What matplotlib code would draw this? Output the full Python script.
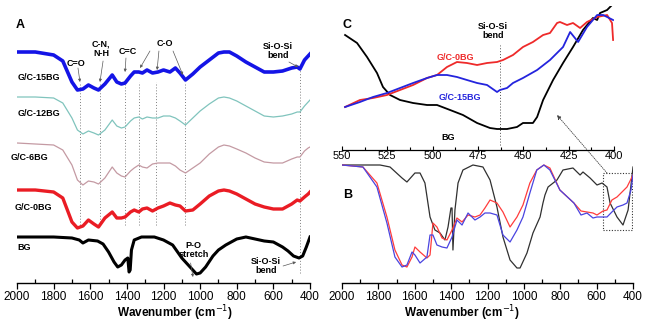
import matplotlib
matplotlib.use('Agg')
import matplotlib.pyplot as plt
from matplotlib.patches import Rectangle
from matplotlib.ticker import MultipleLocator

plt.rcParams['font.family'] = ['Liberation Sans', 'DejaVu Sans']

## Panel A: stacked FTIR spectra (transmittance, arbitrary offset units)
wn_a = [2000, 1900, 1800, 1750, 1700, 1670, 1640, 1610, 1580, 1555, 1520, 1480, 1455, 1430,
        1410, 1380, 1360, 1335, 1315, 1290, 1260, 1230, 1200, 1165, 1135, 1110, 1080, 1040,
        1000, 950, 900, 870, 840, 800, 750, 700, 650, 600, 550, 500, 470, 455, 430, 410, 400]
gc15_a = [231, 231, 228, 222, 201, 193, 194, 198, 195, 193, 199, 208, 201, 199,
          200, 207, 211, 211, 210, 213, 210, 211, 213, 211, 215, 210, 203, 209,
          216, 223, 230, 231, 231, 227, 221, 216, 211, 211, 212, 215, 216, 214, 223, 227, 229]
gc12_a = [186, 186, 185, 180, 165, 153, 149, 152, 150, 148, 153, 163, 157, 155,
          156, 162, 165, 166, 164, 166, 165, 165, 167, 167, 165, 162, 158, 165,
          172, 179, 185, 186, 185, 182, 177, 172, 167, 166, 167, 169, 171, 171, 177, 181, 183]
gc6_a = [140, 139, 138, 133, 118, 103, 98, 102, 101, 99, 105, 116, 110, 107,
         106, 112, 115, 118, 116, 115, 119, 120, 120, 120, 117, 113, 110, 115,
         120, 129, 136, 138, 137, 134, 130, 125, 121, 120, 120, 124, 126, 126, 132, 135, 136]
gc0_a = [93, 93, 91, 85, 61, 55, 57, 63, 59, 56, 65, 71, 65, 65,
         66, 71, 73, 71, 74, 75, 72, 75, 77, 80, 78, 77, 72, 73,
         79, 87, 92, 93, 92, 89, 84, 79, 76, 74, 74, 79, 83, 82, 86, 89, 91]
wn_bg_a = [2000, 1800, 1700, 1660, 1640, 1610, 1560, 1530, 1500, 1470, 1450, 1430, 1410, 1395,
           1388, 1382, 1375, 1360, 1320, 1250, 1200, 1150, 1100, 1050, 1020, 1000, 970, 930,
           900, 860, 800, 750, 700, 650, 600, 550, 520, 490, 460, 440, 420, 400]
bg_a = [46, 46, 45, 43, 40, 43, 42, 39, 31, 21, 16, 18, 23, 25,
        11, 13, 33, 43, 46, 46, 43, 38, 25, 15, 9, 10, 16, 27,
        33, 38, 44, 46, 44, 42, 41, 36, 32, 27, 25, 27, 36, 46]
band_lines = [1656, 1547, 1410, 1334, 1241, 1083]

## Panel B: overlaid spectra
wn_b_bg = [2000, 1791, 1736, 1670, 1643, 1599, 1571, 1544, 1516, 1489, 1461, 1434, 1417, 1401,
           1395, 1390, 1379, 1362, 1335, 1280, 1225, 1186, 1148, 1115, 1076, 1038, 1021, 983,
           950, 911, 895, 884, 867, 818, 785, 730, 691, 675, 636, 598, 570, 543, 526, 488,
           455, 427, 406, 400]
bg_b = [118, 118, 116, 105, 101, 110, 110, 100, 66, 53, 50, 43, 56, 75,
        75, 33, 73, 100, 113, 118, 116, 103, 76, 46, 23, 15, 15, 30,
        50, 66, 80, 88, 96, 103, 113, 115, 108, 111, 105, 98, 100, 96, 80, 66,
        58, 73, 106, 116]
wn_b_gc = [2000, 1885, 1808, 1753, 1709, 1670, 1643, 1615, 1599, 1571, 1533, 1516, 1500, 1478,
           1450, 1423, 1395, 1368, 1340, 1307, 1269, 1241, 1214, 1186, 1148, 1115, 1076, 1038,
           1005, 967, 929, 890, 857, 802, 725, 686, 653, 620, 598, 565, 543, 516, 488, 455,
           433, 411, 400]
gc0_b = [118, 116, 100, 66, 33, 18, 16, 26, 36, 31, 25, 28, 60, 56,
         45, 43, 53, 65, 61, 68, 66, 68, 75, 83, 80, 71, 56, 66,
         78, 100, 113, 118, 115, 93, 80, 72, 71, 70, 68, 72, 73, 83, 86, 92,
         96, 104, 108]
gc15_b = [118, 116, 96, 60, 26, 16, 18, 31, 28, 20, 26, 48, 48, 38,
          36, 35, 46, 63, 58, 70, 63, 66, 70, 70, 68, 48, 41, 53,
          66, 90, 113, 118, 113, 93, 80, 68, 70, 65, 66, 66, 66, 71, 76, 78,
          80, 93, 108]

## Panel C: zoom of the Si-O-Si bend region
wn_c_bg = [548.3, 541.7, 536.2, 530.7, 527.4, 523.5, 518.0, 510.8, 503.1, 497.6, 490.4, 483.3,
           475.5, 468.4, 464.5, 459.0, 453.5, 450.2, 446.9, 444.7, 442.4, 439.1, 433.6, 428.1,
           422.6, 417.1, 411.6, 409.3, 407.7, 403.8, 401.1]
bg_c = [115, 107, 93, 77, 63, 55, 50, 47, 45, 45, 40, 35,
        27, 22, 21, 21, 23, 27, 27, 27, 33, 50, 70, 87,
        103, 120, 132, 130, 137, 140, 145]
wn_c_gc0 = [548.3, 540.1, 532.9, 525.2, 518.0, 510.8, 503.1, 497.6, 492.1, 486.6, 481.1, 475.5,
            470.0, 464.5, 461.2, 455.7, 450.2, 444.7, 439.1, 435.3, 431.4, 429.8, 425.9, 422.6,
            418.7, 414.9, 409.3, 403.8, 401.1, 400.5]
gc0_c = [43, 50, 52, 55, 60, 65, 72, 75, 83, 88, 87, 85,
         87, 88, 90, 95, 103, 108, 115, 117, 127, 128, 125, 127,
         122, 128, 133, 135, 127, 110]
wn_c_gc15 = [548.3, 540.1, 532.9, 525.2, 518.0, 510.8, 503.1, 497.6, 492.1, 486.6, 481.1, 475.5,
             470.0, 464.5, 462.9, 459.0, 455.7, 450.2, 442.4, 435.3, 428.1, 424.2, 419.8, 414.9,
             409.3, 406.0, 400.5]
gc15_c = [43, 48, 53, 57, 62, 67, 72, 75, 75, 73, 70, 67,
          65, 58, 60, 62, 67, 72, 80, 90, 103, 118, 108, 123,
          135, 135, 130]

fig = plt.figure(figsize=(6.46, 3.22), dpi=100)
W, H = 646.0, 322.0

def box(x0, x1, ytop, ybot):
    return [x0 / W, 1 - ybot / H, (x1 - x0) / W, (ybot - ytop) / H]

def bottom_axis(ax):
    for s in ['left', 'right', 'top']:
        ax.spines[s].set_visible(False)
    ax.set_yticks([])
    ax.patch.set_alpha(0)

bold = dict(fontweight='bold', fontsize=6.5)
arrow = dict(arrowstyle='-|>', lw=0.5, color='0.35', mutation_scale=4, shrinkA=0, shrinkB=0)

# ---------------- panel A ----------------
ax_a = fig.add_axes(box(17, 310, 10, 283))
bottom_axis(ax_a)
for wl in band_lines:
    ax_a.plot([wl, wl], [58, 201], ls=(0, (1, 2)), color='0.5', lw=0.7)
ax_a.plot([455, 455], [10, 216], ls=(0, (1, 2)), color='0.5', lw=0.7)
ax_a.plot(wn_a, gc15_a, color='#1414e6', lw=2.6)
ax_a.plot(wn_a, gc12_a, color='#80c4bd', lw=0.9)
ax_a.plot(wn_a, gc6_a, color='#c49aa3', lw=0.9)
ax_a.plot(wn_a, gc0_a, color='#ea1c24', lw=2.4)
ax_a.plot(wn_bg_a, bg_a, color='black', lw=2.2)
ax_a.set_xlim(2000, 400)
ax_a.set_ylim(0, 273)

ax_a.text(1995, 206, 'G/C-15BG', ha='left', va='center', **bold)
ax_a.text(1995, 170, 'G/C-12BG', ha='left', va='center', **bold)
ax_a.text(2033, 126, 'G/C-6BG', ha='left', va='center', **bold)
ax_a.text(2011, 75, 'G/C-0BG', ha='left', va='center', **bold)
ax_a.text(2000, 35, 'BG', ha='left', va='center', **bold)

ax_a.text(1678, 220, 'C=O', ha='center', va='center', **bold)
ax_a.annotate('', xy=(1656, 201), xytext=(1667, 215), arrowprops=arrow)
ax_a.text(1541, 234, 'C-N,\nN-H', ha='center', va='center', linespacing=1.0, **bold)
ax_a.annotate('', xy=(1547, 201), xytext=(1530, 222), arrowprops=arrow)
ax_a.text(1394, 232, 'C=C', ha='center', va='center', **bold)
ax_a.annotate('', xy=(1410, 211), xytext=(1405, 225), arrowprops=arrow)
ax_a.text(1192, 240, 'C-O', ha='center', va='center', **bold)
ax_a.annotate('', xy=(1328, 215), xytext=(1274, 232), arrowprops=arrow)
ax_a.annotate('', xy=(1235, 213), xytext=(1225, 232), arrowprops=arrow)
ax_a.annotate('', xy=(1094, 208), xytext=(1148, 232), arrowprops=arrow)
ax_a.text(575, 232, 'Si-O-Si\nbend', ha='center', va='center', linespacing=1.0, **bold)
ax_a.annotate('', xy=(465, 216), xytext=(515, 221), arrowprops=arrow)
ax_a.text(1036, 33, 'P-O\nstretch', ha='center', va='center', linespacing=1.0, **bold)
ax_a.annotate('', xy=(1039, 6), xytext=(1052, 20), arrowprops=arrow)
ax_a.text(640, 17, 'Si-O-Si\nbend', ha='center', va='center', linespacing=1.0, **bold)
ax_a.annotate('', xy=(476, 21), xytext=(547, 17), arrowprops=arrow)

# ---------------- panel B ----------------
ax_b = fig.add_axes(box(342, 633, 150, 283))
bottom_axis(ax_b)
ax_b.plot(wn_b_bg, bg_b, color='#303030', lw=0.9)
ax_b.plot(wn_b_gc, gc0_b, color='#ff3c3c', lw=0.9)
ax_b.plot(wn_b_gc, gc15_b, color='#4a44e0', lw=0.9)
ax_b.set_xlim(2000, 400)
ax_b.set_ylim(0, 133)
ax_b.add_patch(Rectangle((565, 53), 406 - 565, 57, fill=False, ls=(0, (1, 1.5)), lw=0.8, color='0.2'))
ax_b.annotate('', xy=(818, 168), xytext=(543, 110), annotation_clip=False,
              arrowprops=dict(arrowstyle='-|>', lw=0.6, ls=(0, (1, 1.5)), color='0.25',
                              mutation_scale=6, shrinkA=0, shrinkB=0))

for ax in (ax_a, ax_b):
    ax.xaxis.set_major_locator(MultipleLocator(200))
    ax.xaxis.set_minor_locator(MultipleLocator(100))
    ax.tick_params(axis='x', which='major', direction='out', length=4, width=0.9, labelsize=8.5, pad=2)
    ax.tick_params(axis='x', which='minor', direction='in', length=3, width=0.9)
    ax.spines['bottom'].set_linewidth(1.0)

# ---------------- panel C ----------------
ax_c = fig.add_axes(box(342, 614, 6, 150))
bottom_axis(ax_c)
ax_c.plot([463, 463], [5, 105], ls=(0, (1, 2)), color='0.3', lw=0.7)
ax_c.plot(wn_c_bg, bg_c, color='black', lw=1.3)
ax_c.plot(wn_c_gc0, gc0_c, color='#ee2a2a', lw=1.3)
ax_c.plot(wn_c_gc15, gc15_c, color='#2424dd', lw=1.3)
ax_c.set_xlim(550, 400)
ax_c.set_ylim(0, 144)
ax_c.xaxis.set_major_locator(MultipleLocator(25))
ax_c.xaxis.set_minor_locator(MultipleLocator(12.5))
ax_c.tick_params(axis='x', which='major', direction='in', length=3, width=0.8, labelsize=8, pad=1)
ax_c.tick_params(axis='x', which='minor', direction='in', length=2, width=0.8)
ax_c.spines['bottom'].set_linewidth(0.9)
ax_c.text(466.7, 119, 'Si-O-Si\nbend', ha='center', va='center', linespacing=1.0, **bold)
ax_c.text(487.7, 93, 'G/C-0BG', ha='center', va='center', color='#ee2a2a', **bold)
ax_c.text(484.9, 52, 'G/C-15BG', ha='center', va='center', color='#2424dd', **bold)
ax_c.text(491.5, 13, 'BG', ha='center', va='center', **bold)

# panel letters and axis titles
fig.text(20 / W, 1 - 25 / H, 'A', fontsize=9, fontweight='bold', ha='center', va='center')
fig.text(348 / W, 1 - 195 / H, 'B', fontsize=9, fontweight='bold', ha='center', va='center')
fig.text(347 / W, 1 - 25 / H, 'C', fontsize=9, fontweight='bold', ha='center', va='center')
fig.text(175 / W, 1 - 313 / H, 'Wavenumber (cm$^{-1}$)', fontsize=8.5, fontweight='bold',
         ha='center', va='center')
fig.text(462 / W, 1 - 313 / H, 'Wavenumber (cm$^{-1}$)', fontsize=8.5, fontweight='bold',
         ha='center', va='center')

fig.savefig('out.png', dpi=100)
